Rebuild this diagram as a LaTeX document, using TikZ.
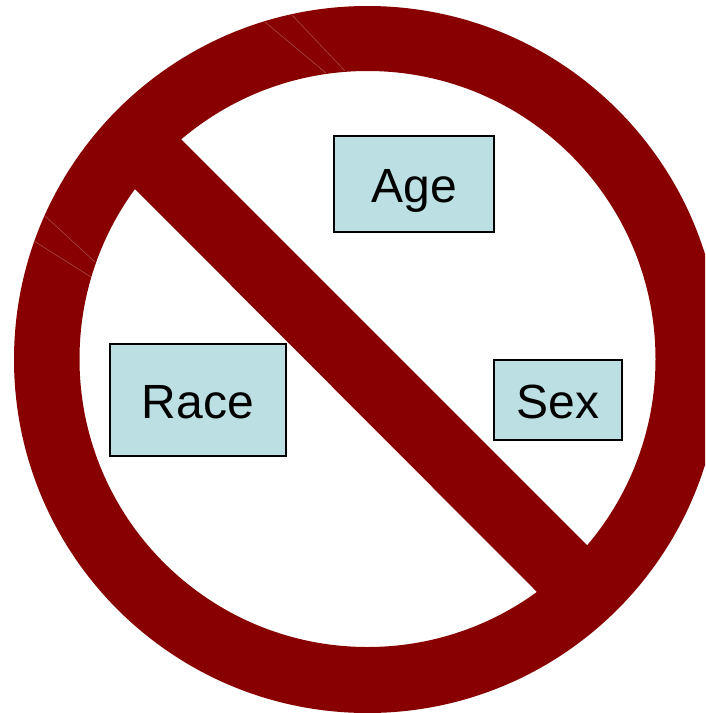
\documentclass[tikz,border=0pt]{standalone}
\usepackage{fontspec}
\setmainfont{Liberation Sans}
\definecolor{ringred}{HTML}{880000}
\definecolor{seam}{HTML}{A84848}
\definecolor{boxblue}{HTML}{BBDFE3}
\tikzset{
  label box/.style={draw=black,line width=1.7pt,fill=boxblue,inner sep=0pt,outer sep=0pt,anchor=north west,
    font=\fontsize{48}{48}\selectfont,text=black,align=center,text height=36pt,text depth=0pt},
  seam line/.style={draw=seam,line width=0.6pt}
}
\begin{document}
\begin{tikzpicture}[x=1pt,y=-1pt]
\useasboundingbox (0,0) rectangle (705,713);
\clip (0,0) rectangle (705,713);
\fill[white] (0,0) rectangle (705,713);
% ring
\fill[ringred,even odd rule] (367.5,359.5) circle[radius=353.5] (367.5,359) circle[radius=288];
% bar
\fill[ringred] (160,118) -- (182,140) -- (587,545) -- (610,568) -- (558,613) -- (535,590) -- (132,186) -- (110,164) -- cycle;
% seams
\draw[seam line] (265,22) -- (326,73);
\draw[seam line] (292,15) -- (345,71);
\draw[seam line] (45,216) -- (95,262);
\draw[seam line] (34,241) -- (91,277);
% boxes
\node[label box,minimum width=160pt,minimum height=96pt] (age) at (334,136) {Age};
\node[label box,minimum width=176pt,minimum height=112pt] (race) at (110,344) {Race};
\node[label box,minimum width=128pt,minimum height=80pt] (sex) at (494,360) {Sex};
\end{tikzpicture}
\end{document}
